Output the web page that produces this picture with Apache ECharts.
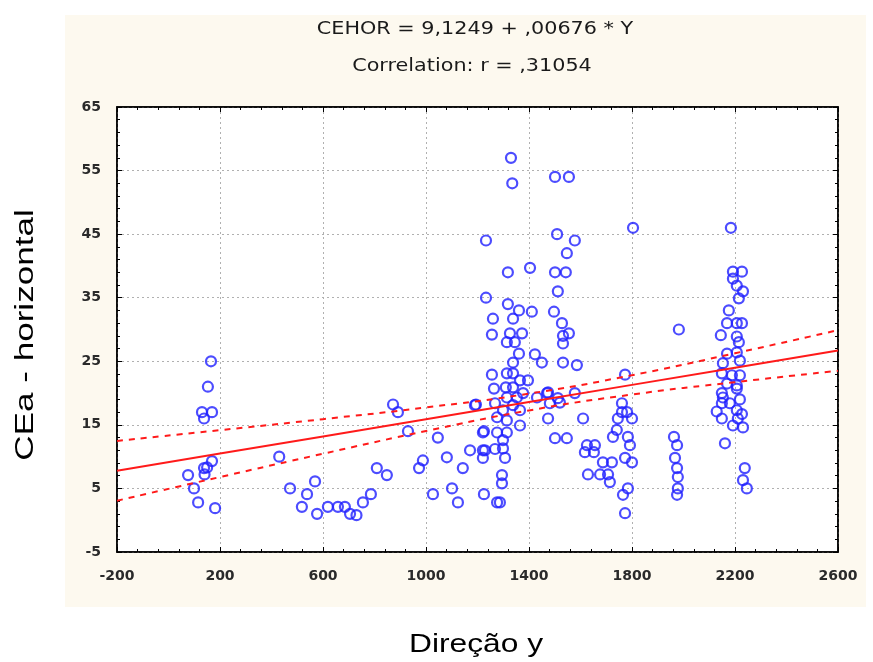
<!DOCTYPE html>
<html>
<head>
<meta charset="utf-8">
<title>CEa - horizontal x Direção y</title>
<script src="https://cdn.jsdelivr.net/npm/echarts@6/dist/echarts.min.js"></script>
<style>
  html, body { margin: 0; padding: 0; background: #fff; }
  #chart { width: 873px; height: 662px; }
</style>
</head>
<body>
<div id="chart"></div>
<script>
// eixos
var xTicks = [-200, 200, 600, 1000, 1400, 1800, 2200, 2600];
var yTicks = [-5, 5, 15, 25, 35, 45, 55, 65];

// pontos (Direção y, CEa - horizontal)
var dirY = [
  165, 153, 130, 169, 138, 169, 150, 138, 140, 76, 99, 115, 181,
  430, 472, 569, 538, 518, 577, 619, 658, 685, 705, 730, 755, 786, 809, 848,
  872, 891, 930, 988, 973, 1027, 1046, 1081, 1101, 1124, 1143, 1171, 1194,
  1221, 1221, 1225, 1225, 1256, 1264,
  1330, 1335, 1501, 1555, 1233, 1509, 1578, 1547, 1404, 1318, 1501, 1543,
  1512, 1233, 1318, 1361, 1411, 1497, 1260, 1338, 1528, 1256, 1326, 1373,
  1555, 1532, 1314, 1345, 1532, 1361, 1423, 1450, 1338, 1532, 1586, 1314,
  1338, 1365, 1396, 1310, 1338, 1377, 1431, 1470, 1578, 1190, 1314, 1353,
  1268, 1338, 1481, 1520, 1299, 1365, 1276, 1474, 1314, 1365, 1221, 1276,
  1314, 1501, 1547, 1299, 1229, 1268, 1299, 1307, 1295, 1295, 1276, 1287,
  1474, 1512, 1610,
  1804, 1773, 1761, 1761, 1781, 1745, 1800, 1741, 1726, 1784, 1792, 1625,
  1656, 1617, 1652, 1687, 1722, 1773, 1800, 1629, 1676, 1707, 1714, 1784,
  1765, 1773,
  1982, 1963, 1975, 1967, 1975, 1978, 1978, 1975,
  2184, 2192, 2227, 2192, 2207, 2231, 2215, 2176, 2169, 2207, 2227, 2145,
  2207, 2215, 2169, 2207, 2219, 2153, 2149, 2188, 2219, 2169, 2207, 2149,
  2207, 2153, 2219, 2180, 2149, 2207, 2227, 2129, 2149, 2211, 2192, 2231,
  2161, 2238, 2231, 2246
];
var ceaH = [
  25, 21, 17, 17, 16, 9.3, 8.3, 8.2, 7.2, 7.1, 5, 2.8, 1.9,
  10, 5, 6.1, 4.1, 2.1, 1, 2.1, 2.1, 2.1, 1, 0.8, 2.8, 4.1, 8.2, 7.1,
  18.2, 17, 14, 9.4, 8.2, 4.1, 13, 9.9, 5, 2.8, 8.2, 11, 18.2,
  11, 9.8, 4.1, 14, 22.9, 20.7,
  57, 53, 54, 54, 44, 45, 44, 42, 39.7, 39, 39, 39,
  36, 35, 34, 33, 32.8, 32.8, 31.7, 31.7, 31, 29.2, 29.4, 29.4,
  29.4, 29, 28, 28, 27.8, 26.2, 26.1, 24.8, 24.8, 24.8, 24.4, 23.1,
  23.1, 22, 22, 20.9, 20.9, 20, 19.3, 20, 20, 18.1, 19.3, 19.3,
  18.4, 18.1, 18.4, 18.5, 17.3, 17.3, 16.2, 16, 15.7, 14.9, 13.8, 13.8,
  13.8, 12.9, 12.9, 12.6, 11, 11.2, 11.3, 9.8, 7.1, 5.8, 2.8, 2.8,
  20.1, 19.2, 16,
  46, 22.9, 18.4, 17, 17, 16, 16, 14.2, 13.1, 13.1, 11.8, 11.8,
  11.8, 10.7, 10.7, 9.1, 9.1, 9.8, 9.1, 7.2, 7.2, 7.2, 6, 5,
  4, 1.1,
  30, 13.1, 11.8, 9.8, 8.2, 6.8, 5, 4,
  46, 39.1, 39.1, 38, 36.9, 36, 34.9, 33, 31, 31, 31, 29.1,
  28.9, 28, 26.2, 26.4, 25.1, 24.7, 23.1, 22.8, 22.8, 21.5, 21.2, 20,
  20.7, 19.3, 19, 18.4, 18.4, 17.3, 16.7, 17.1, 16, 16, 14.9, 14.6,
  12.1, 8.2, 6.3, 5
];

// reta de regressão e limites de confiança (95%)
var fitX = [-200, 200, 600, 1000, 1400, 1800, 2200, 2600];
var fitY = [7.77, 10.48, 13.18, 15.88, 18.59, 21.29, 23.99, 26.70];
var upperY = [12.47, 14.17, 15.90, 17.74, 19.91, 22.81, 26.26, 29.90];
var lowerY = [3.07, 6.79, 10.46, 14.02, 17.27, 19.77, 21.72, 23.50];

var pontos = dirY.map(function (v, i) { return [v, ceaH[i]]; });
function pares(ys) {
  return fitX.map(function (v, i) { return [v, ys[i]]; });
}

var myChart = echarts.init(document.getElementById('chart'));

var labelFont = {
  color: '#2a2a2a',
  fontSize: 14,
  fontWeight: 'bold',
  fontFamily: '"DejaVu Sans", sans-serif'
};
var titleFont = '17px "DejaVu Sans", sans-serif';
var axisTitleFont = '26px "Liberation Sans", Arial, sans-serif';

function caixa(pos) {
  return {
    type: 'value', position: pos, min: xTicks[0], max: xTicks[xTicks.length - 1], interval: 400,
    axisLine: { show: true, onZero: false, lineStyle: { color: '#000', width: 1.5 } },
    axisTick: { show: true, inside: true, length: 5, lineStyle: { color: '#000' } },
    minorTick: { show: true, splitNumber: 5, length: 3, lineStyle: { color: '#000' } },
    axisLabel: { show: false },
    splitLine: { show: false }
  };
}

var option = {
  backgroundColor: '#fff',
  animation: false,
  graphic: [
    {
      type: 'rect', z: -10, silent: true,
      shape: { x: 65, y: 15, width: 801, height: 592 },
      style: { fill: '#fdf9ef' }
    },
    {
      type: 'text', z: 10, x: 475, y: 30, scaleX: 1.22,
      style: {
        text: 'CEHOR = 9,1249 + ,00676 * Y', x: 0, y: 0,
        align: 'center', verticalAlign: 'middle',
        fill: '#1a1a1a', font: titleFont
      }
    },
    {
      type: 'text', z: 10, x: 472, y: 67, scaleX: 1.22,
      style: {
        text: 'Correlation: r = ,31054', x: 0, y: 0,
        align: 'center', verticalAlign: 'middle',
        fill: '#1a1a1a', font: titleFont
      }
    },
    {
      type: 'text', z: 10,
      x: 26, y: 335, rotation: Math.PI / 2, scaleX: 1.35,
      style: {
        text: 'CEa - horizontal', x: 0, y: 0,
        align: 'center', verticalAlign: 'middle',
        fill: '#000', font: axisTitleFont
      }
    },
    {
      type: 'text', z: 10, x: 476, y: 645, scaleX: 1.22,
      style: {
        text: 'Direção y', x: 0, y: 0,
        align: 'center', verticalAlign: 'middle',
        fill: '#000', font: axisTitleFont
      }
    }
  ],
  grid: {
    left: 117, right: 35, top: 107, bottom: 110,
    show: true, backgroundColor: '#fff',
    borderColor: '#000', borderWidth: 1.5
  },
  xAxis: [
    {
      type: 'value', min: xTicks[0], max: xTicks[xTicks.length - 1], interval: 400,
      axisLine: { show: true, onZero: false, lineStyle: { color: '#000', width: 1.5 } },
      axisTick: { show: true, inside: true, length: 5, lineStyle: { color: '#000' } },
      minorTick: { show: true, splitNumber: 5, length: 3, lineStyle: { color: '#000' } },
      axisLabel: Object.assign({ margin: 17, formatter: function (v) { return String(v); } }, labelFont),
      splitLine: { show: true, lineStyle: { color: '#b0b0b0', type: [2, 3], width: 1 } }
    },
    caixa('top')
  ],
  yAxis: [
    {
      type: 'value', min: yTicks[0], max: yTicks[yTicks.length - 1], interval: 10,
      axisLine: { show: true, onZero: false, lineStyle: { color: '#000', width: 1.5 } },
      axisTick: { show: true, inside: true, length: 5, lineStyle: { color: '#000' } },
      minorTick: { show: true, splitNumber: 5, length: 3, lineStyle: { color: '#000' } },
      axisLabel: Object.assign({ margin: 16 }, labelFont),
      splitLine: { show: true, lineStyle: { color: '#b0b0b0', type: [2, 3], width: 1 } }
    },
    Object.assign(caixa('right'), { min: yTicks[0], max: yTicks[yTicks.length - 1], interval: 10 })
  ],
  series: [
    {
      name: 'CEa', type: 'scatter', z: 2,
      data: pontos, symbol: 'circle', symbolSize: 10,
      itemStyle: { color: 'rgba(255,255,255,0)', borderColor: '#1f1fff', borderWidth: 2.2 }
    },
    {
      name: 'ajuste', type: 'line', z: 3, data: pares(fitY),
      symbol: 'none', lineStyle: { color: '#ff1a1a', width: 2 }
    },
    {
      name: 'sup', type: 'line', z: 3, data: pares(upperY), smooth: true,
      symbol: 'none', lineStyle: { color: '#ff1a1a', width: 2, type: [6, 6] }
    },
    {
      name: 'inf', type: 'line', z: 3, data: pares(lowerY), smooth: true,
      symbol: 'none', lineStyle: { color: '#ff1a1a', width: 2, type: [6, 6] }
    }
  ]
};

myChart.setOption(option);
</script>
</body>
</html>
